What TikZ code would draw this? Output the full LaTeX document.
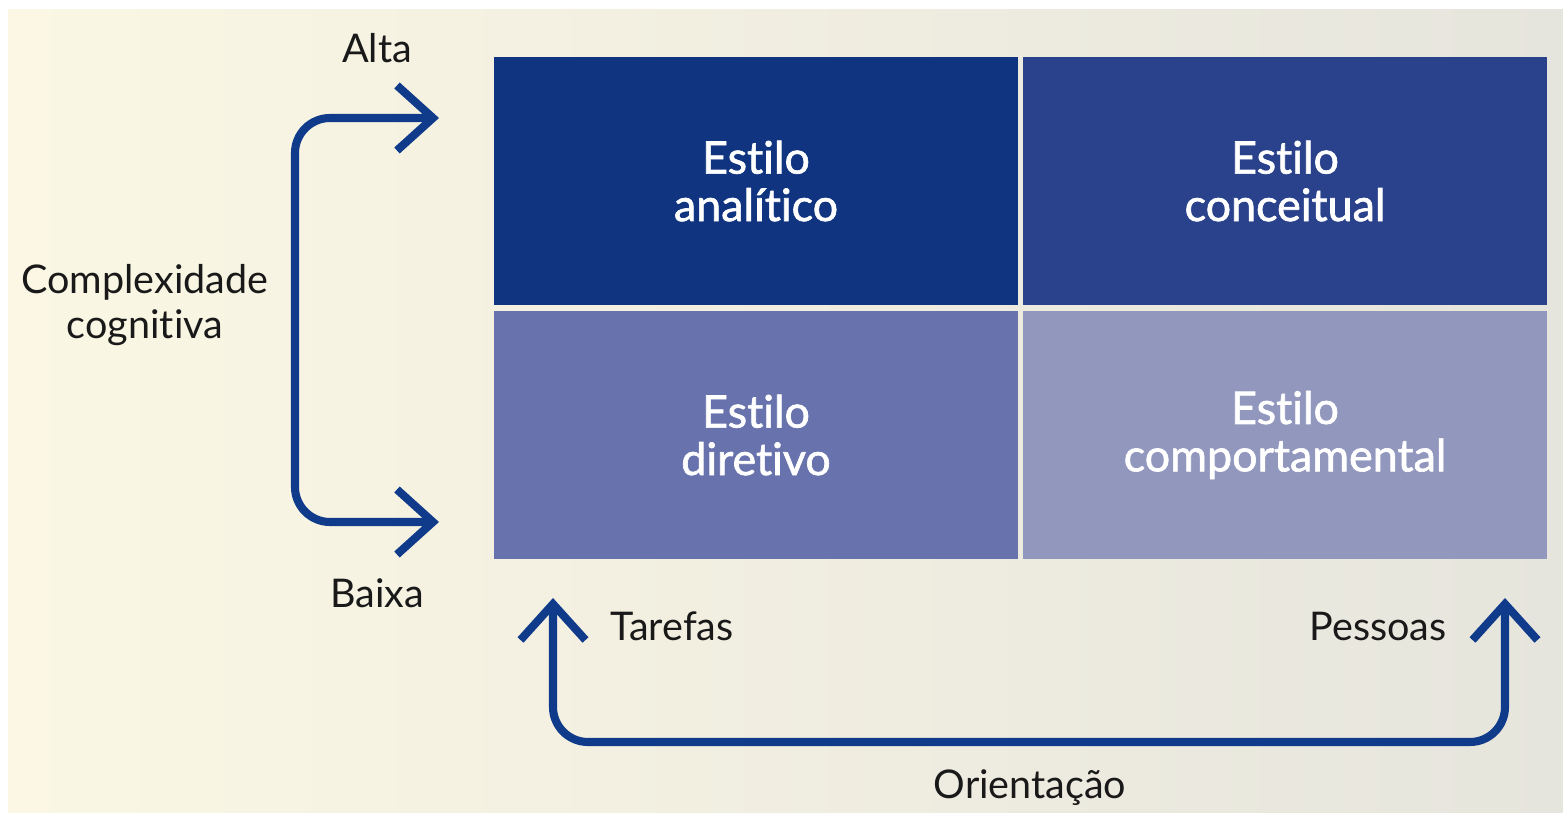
\documentclass[tikz,border=0pt]{standalone}
\usepackage{fontspec}
\setmainfont[Ligatures=NoCommon]{Lato}
\newfontfamily\boxfont[FakeBold=1.5, Ligatures=NoCommon]{Lato}
\usetikzlibrary{arrows.meta}

\definecolor{bgcream}{RGB}{251,247,228}
\definecolor{bggrey}{RGB}{230,229,221}
\definecolor{flowblue}{RGB}{16,58,138}
\definecolor{quadTL}{RGB}{16,52,128}
\definecolor{quadTR}{RGB}{42,66,140}
\definecolor{quadBL}{RGB}{104,114,172}
\definecolor{quadBR}{RGB}{146,151,190}

\tikzset{
  quad/.style={minimum width=10.48cm, minimum height=4.98cm, inner sep=0pt,
    text=white, align=center, font=\boxfont\fontsize{25.5}{27}\selectfont},
  lbl/.style={text=black!90, align=center, inner sep=0pt, font=\fontsize{22.5}{26}\selectfont},
  flow/.style={draw=flowblue, line width=4.6pt, rounded corners=0.7cm,
    {Straight Barb[length=0.72cm,width=1.3cm]}-{Straight Barb[length=0.72cm,width=1.3cm]}}
}

\begin{document}
\begin{tikzpicture}[x=0.02cm, y=-0.02cm]
	%background
	\useasboundingbox (0,0) rectangle (1563,813);
	\fill[white] (0,0) rectangle (1563,813);
	\shade[left color=bgcream, right color=bggrey] (8,10) rectangle (1563,813);
	
	%quadrants
	\node[quad, fill=quadTL] (analitico) at (756,181) {Estilo\\anal\'itico};
	\node[quad, fill=quadTR] (conceitual) at (1285,181) {Estilo\\conceitual};
	\node[quad, fill=quadBL] (diretivo) at (756,435) {Estilo\\diretivo};
	\node[quad, fill=quadBR] (comportamental) at (1285,435) {Estilo\\comportamental};
	
	%complexity axis
	\coordinate (altaTip) at (439,118);
	\coordinate (baixaTip) at (439,522);
	\draw[flow] (altaTip) -- ++(-144,0) |- (baixaTip);
	\node[lbl] (alta) at (377,48) {Alta};
	\node[lbl] (baixa) at (377,593) {Baixa};
	\node[lbl] (complexidade) at (145,305) {Complexidade\\cognitiva};
	
	%orientation axis
	\coordinate (tarefasTip) at (553,598);
	\coordinate (pessoasTip) at (1505,598);
	\draw[flow] (tarefasTip) -- ++(0,144) -| (pessoasTip);
	\node[lbl] (tarefas) at (672,626) {Tarefas};
	\node[lbl] (pessoas) at (1378,626) {Pessoas};
	\node[lbl] (orientacao) at (1030,788) {Orienta\c{c}\~ao};
\end{tikzpicture}
\end{document}
